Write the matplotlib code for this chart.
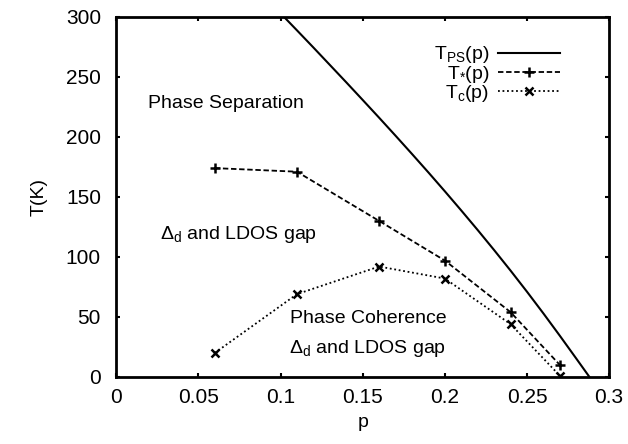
import matplotlib
matplotlib.use("Agg")
import matplotlib.pyplot as plt

plt.rcParams['font.family'] = ['Liberation Sans', 'DejaVu Sans']
plt.rcParams['mathtext.fontset'] = 'custom'
plt.rcParams['mathtext.rm'] = 'Liberation Sans'
plt.rcParams['mathtext.it'] = 'Liberation Sans'
plt.rcParams['mathtext.sf'] = 'Liberation Sans'

# ─── Data ────────────────────────────────────────────────────────────────────
p_ps = [0.10, 0.11, 0.12, 0.13, 0.14, 0.15, 0.16, 0.17, 0.18, 0.19, 0.20,
        0.21, 0.22, 0.23, 0.24, 0.25, 0.26, 0.27, 0.28, 0.288]
T_ps = [303, 288.8, 274.5, 260, 245.5, 230.8, 216, 201, 185.8, 170.4, 154.7,
        138.7, 122.4, 105.7, 88.6, 71, 52.9, 34.3, 15.3, 0]

p_pts = [0.06, 0.11, 0.16, 0.20, 0.24, 0.27]
T_star = [174, 171, 130, 97, 54, 10]
T_c = [20, 69, 92, 82, 44, 1]

xticks = [0, 0.05, 0.1, 0.15, 0.2, 0.25, 0.3]
xticklabels = ['0', '0.05', '0.1', '0.15', '0.2', '0.25', '0.3']
yticks = [0, 50, 100, 150, 200, 250, 300]

FS = 14

# ─── Plot ────────────────────────────────────────────────────────────────────
fig = plt.figure(figsize=(6.28, 4.44), dpi=100)
ax = fig.add_axes([0.185, 0.151, 0.785, 0.811])

ax.plot(p_ps, T_ps, color='black', lw=1.5, label=r'$\mathregular{T_{PS}(p)}$')
ax.plot(p_pts, T_star, color='black', lw=1.3, dashes=(3, 1.5), marker='+',
        ms=7, mew=1.8, label=r'$\mathregular{T_{*}(p)}$')
ax.plot(p_pts, T_c, color='black', lw=1.3, ls=(0, (1, 1.5)), marker='x',
        ms=6, mew=1.8, label=r'$\mathregular{T_{c}(p)}$')

ax.text(0.0195, 228, 'Phase Separation', fontsize=FS, va='center')
ax.text(0.0267, 119, r'$\mathregular{\Delta_d}$ and LDOS gap', fontsize=FS, va='center')
ax.text(0.106, 49, 'Phase Coherence', fontsize=FS, va='center')
ax.text(0.105, 24, r'$\mathregular{\Delta_d}$ and LDOS gap', fontsize=FS, va='center')

ax.set_xlim(0, 0.3)
ax.set_ylim(0, 300)
ax.set_xticks(xticks)
ax.set_xticklabels(xticklabels)
ax.set_yticks(yticks)
ax.tick_params(direction='in', top=True, right=True, length=3, width=1.5,
               labelsize=15)
ax.tick_params(axis='x', pad=8)
ax.tick_params(axis='y', pad=11)
for s in ax.spines.values():
    s.set_linewidth(2)
ax.set_xlabel('p', fontsize=FS, labelpad=5)
ax.set_ylabel('T(K)', fontsize=FS, labelpad=13)

ax.legend(loc='upper right', bbox_to_anchor=(0.917, 0.945), frameon=False,
          markerfirst=False, fontsize=FS, handlelength=3.2,
          labelspacing=-0.1, borderaxespad=0, handletextpad=0.45,
          borderpad=0.4)

plt.savefig('out.png', dpi=100)
